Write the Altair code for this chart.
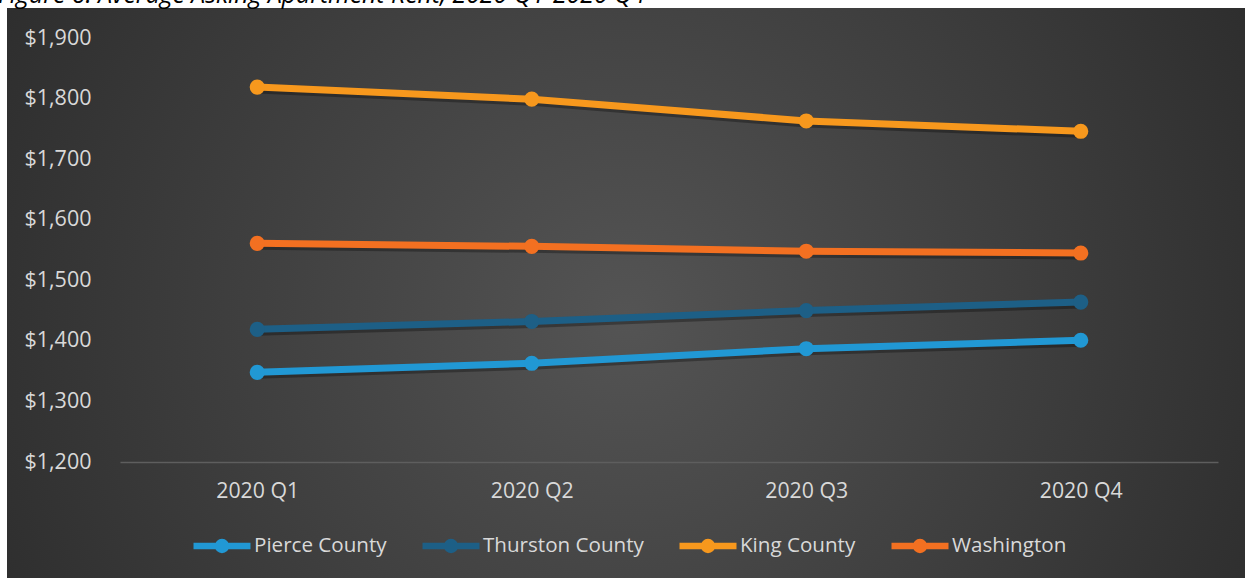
import altair as alt
import pandas as pd

quarters = ["2020 Q1", "2020 Q2", "2020 Q3", "2020 Q4"]
series_names = ["Pierce County", "Thurston County", "King County", "Washington"]
pierce = [1348, 1363, 1387, 1401]
thurston = [1419, 1432, 1450, 1464]
king = [1819, 1799, 1763, 1746]
washington = [1561, 1556, 1548, 1545]
series_colors = ["#2198d4", "#1d5f86", "#f7981d", "#f37021"]
y_ticks = [1200, 1300, 1400, 1500, 1600, 1700, 1800, 1900]
title_text = "Figure 6: Average Asking Apartment Rent, 2020 Q1-2020 Q4"

rows = []
for name, vals in zip(series_names, [pierce, thurston, king, washington]):
    for q, v in zip(quarters, vals):
        rows.append({"series": name, "quarter": q, "rent": v})
df = pd.DataFrame(rows)

W, H = 1098, 424
FONT = "Open Sans"

legend_symbol = ("M-1,0L1,0M0.14,0A0.14,0.14,0,1,1,-0.14,0"
                 "A0.14,0.14,0,1,1,0.14,0Z")

x_enc = alt.X(
    "quarter:N",
    sort=quarters,
    scale=alt.Scale(type="point", padding=0.5),
    axis=alt.Axis(title=None, ticks=False, tickSize=0, grid=False,
                  domainColor="#5e5e5e", domainWidth=1.5,
                  labelColor="#d9d9d9", labelFont=FONT, labelFontSize=21.3,
                  labelPadding=18, labelAngle=0, zindex=1),
)
y_enc = alt.Y(
    "rent:Q",
    scale=alt.Scale(domain=[1200, 1900], nice=False, zero=False),
    axis=alt.Axis(title=None, values=y_ticks, format="$,.0f", ticks=False,
                  tickSize=0, grid=False, domain=False,
                  labelColor="#d9d9d9", labelFont=FONT, labelFontSize=21.5,
                  labelPadding=29, zindex=1),
)
color_enc = alt.Color(
    "series:N",
    sort=series_names,
    scale=alt.Scale(domain=series_names, range=series_colors),
    legend=alt.Legend(
        title=None, orient="none", legendX=70, legendY=476,
        direction="horizontal", columns=4,
        symbolType=legend_symbol, symbolSize=3249, symbolStrokeWidth=6.5,
        labelColor="#d9d9d9", labelFont=FONT, labelFontSize=20.6,
        labelOffset=0, labelLimit=400, columnPadding=22, padding=0,
    ),
)

bg = alt.Chart(pd.DataFrame({"a": [0]})).mark_rect(
    fill={
        "gradient": "radial",
        "x1": 0.5, "y1": 0.52, "r1": 0,
        "x2": 0.5, "y2": 0.52, "r2": 0.72,
        "stops": [
            {"offset": 0, "color": "#545454"},
            {"offset": 1, "color": "#232323"},
        ],
    }
).encode(
    x=alt.value(-113), x2=alt.value(1125),
    y=alt.value(-30), y2=alt.value(540),
)

title = alt.Chart(pd.DataFrame({"t": [title_text]})).mark_text(
    align="left", baseline="alphabetic", font=FONT, fontSize=24.8,
    fontStyle="italic", color="#000000",
).encode(x=alt.value(-122), y=alt.value(-35), text="t:N")

base = alt.Chart(df).encode(x=x_enc, y=y_enc)

shadow = base.mark_line(color="#000000", opacity=0.3, strokeWidth=7,
                        yOffset=3).encode(detail="series:N")
lines = base.mark_line(strokeWidth=7).encode(color=color_enc)
points = base.mark_circle(size=230, opacity=1).encode(color=color_enc)

chart = alt.layer(bg, title, shadow, lines, points).properties(
    width=W, height=H,
    autosize=alt.AutoSizeParams(type="none"),
    padding={"left": 120, "top": 38, "right": 27, "bottom": 119},
    background="#ffffff",
).configure_view(stroke=None)

chart.save("out.html", embed_options={"renderer": "svg", "actions": False})
